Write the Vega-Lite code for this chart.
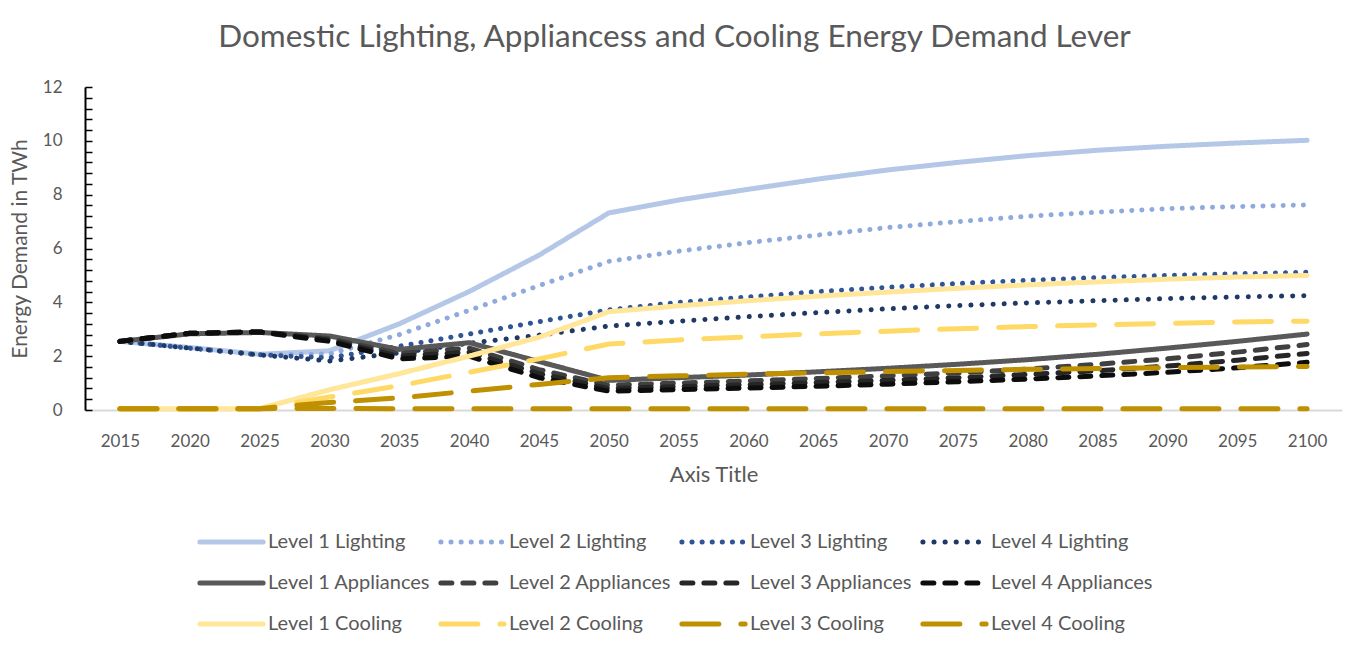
{
  "$schema": "https://vega.github.io/schema/vega-lite/v6.json",
  "autosize": "none",
  "width": 1257,
  "height": 323,
  "padding": {"left": 85, "top": 87, "right": 5, "bottom": 238},
  "background": "white",
  "title": {"text": "Domestic Lighting, Appliancess and Cooling Energy Demand Lever", "fontSize": 31.5, "font": "Lato", "fontWeight": "normal", "color": "#595959", "offset": 25, "dx": -39},
  "config": {
    "font": "Lato",
    "view": {"stroke": null},
    "legend": {"labelFont": "Lato"}
  },
  "datasets": {
    "rows": [
      {"year": 2015, "series": "Level 1 Lighting", "value": 2.55},
      {"year": 2020, "series": "Level 1 Lighting", "value": 2.32},
      {"year": 2025, "series": "Level 1 Lighting", "value": 2.07},
      {"year": 2030, "series": "Level 1 Lighting", "value": 2.2},
      {"year": 2035, "series": "Level 1 Lighting", "value": 3.2},
      {"year": 2040, "series": "Level 1 Lighting", "value": 4.4},
      {"year": 2045, "series": "Level 1 Lighting", "value": 5.75},
      {"year": 2050, "series": "Level 1 Lighting", "value": 7.32},
      {"year": 2055, "series": "Level 1 Lighting", "value": 7.8},
      {"year": 2060, "series": "Level 1 Lighting", "value": 8.2},
      {"year": 2065, "series": "Level 1 Lighting", "value": 8.58},
      {"year": 2070, "series": "Level 1 Lighting", "value": 8.92},
      {"year": 2075, "series": "Level 1 Lighting", "value": 9.2},
      {"year": 2080, "series": "Level 1 Lighting", "value": 9.45},
      {"year": 2085, "series": "Level 1 Lighting", "value": 9.65},
      {"year": 2090, "series": "Level 1 Lighting", "value": 9.8},
      {"year": 2095, "series": "Level 1 Lighting", "value": 9.92},
      {"year": 2100, "series": "Level 1 Lighting", "value": 10.02},
      {"year": 2015, "series": "Level 2 Lighting", "value": 2.55},
      {"year": 2020, "series": "Level 2 Lighting", "value": 2.3},
      {"year": 2025, "series": "Level 2 Lighting", "value": 2.05},
      {"year": 2030, "series": "Level 2 Lighting", "value": 2.08},
      {"year": 2035, "series": "Level 2 Lighting", "value": 2.8},
      {"year": 2040, "series": "Level 2 Lighting", "value": 3.7},
      {"year": 2045, "series": "Level 2 Lighting", "value": 4.62},
      {"year": 2050, "series": "Level 2 Lighting", "value": 5.52},
      {"year": 2055, "series": "Level 2 Lighting", "value": 5.9},
      {"year": 2060, "series": "Level 2 Lighting", "value": 6.22},
      {"year": 2065, "series": "Level 2 Lighting", "value": 6.5},
      {"year": 2070, "series": "Level 2 Lighting", "value": 6.78},
      {"year": 2075, "series": "Level 2 Lighting", "value": 7.0},
      {"year": 2080, "series": "Level 2 Lighting", "value": 7.2},
      {"year": 2085, "series": "Level 2 Lighting", "value": 7.35},
      {"year": 2090, "series": "Level 2 Lighting", "value": 7.48},
      {"year": 2095, "series": "Level 2 Lighting", "value": 7.56},
      {"year": 2100, "series": "Level 2 Lighting", "value": 7.62},
      {"year": 2015, "series": "Level 3 Lighting", "value": 2.55},
      {"year": 2020, "series": "Level 3 Lighting", "value": 2.3},
      {"year": 2025, "series": "Level 3 Lighting", "value": 2.05},
      {"year": 2030, "series": "Level 3 Lighting", "value": 1.94},
      {"year": 2035, "series": "Level 3 Lighting", "value": 2.37},
      {"year": 2040, "series": "Level 3 Lighting", "value": 2.82},
      {"year": 2045, "series": "Level 3 Lighting", "value": 3.28},
      {"year": 2050, "series": "Level 3 Lighting", "value": 3.72},
      {"year": 2055, "series": "Level 3 Lighting", "value": 4.0},
      {"year": 2060, "series": "Level 3 Lighting", "value": 4.2},
      {"year": 2065, "series": "Level 3 Lighting", "value": 4.4},
      {"year": 2070, "series": "Level 3 Lighting", "value": 4.56},
      {"year": 2075, "series": "Level 3 Lighting", "value": 4.7},
      {"year": 2080, "series": "Level 3 Lighting", "value": 4.82},
      {"year": 2085, "series": "Level 3 Lighting", "value": 4.92},
      {"year": 2090, "series": "Level 3 Lighting", "value": 5.0},
      {"year": 2095, "series": "Level 3 Lighting", "value": 5.06},
      {"year": 2100, "series": "Level 3 Lighting", "value": 5.12},
      {"year": 2015, "series": "Level 4 Lighting", "value": 2.55},
      {"year": 2020, "series": "Level 4 Lighting", "value": 2.3},
      {"year": 2025, "series": "Level 4 Lighting", "value": 2.05},
      {"year": 2030, "series": "Level 4 Lighting", "value": 1.82},
      {"year": 2035, "series": "Level 4 Lighting", "value": 2.12},
      {"year": 2040, "series": "Level 4 Lighting", "value": 2.48},
      {"year": 2045, "series": "Level 4 Lighting", "value": 2.78},
      {"year": 2050, "series": "Level 4 Lighting", "value": 3.12},
      {"year": 2055, "series": "Level 4 Lighting", "value": 3.3},
      {"year": 2060, "series": "Level 4 Lighting", "value": 3.47},
      {"year": 2065, "series": "Level 4 Lighting", "value": 3.62},
      {"year": 2070, "series": "Level 4 Lighting", "value": 3.76},
      {"year": 2075, "series": "Level 4 Lighting", "value": 3.88},
      {"year": 2080, "series": "Level 4 Lighting", "value": 3.98},
      {"year": 2085, "series": "Level 4 Lighting", "value": 4.06},
      {"year": 2090, "series": "Level 4 Lighting", "value": 4.14},
      {"year": 2095, "series": "Level 4 Lighting", "value": 4.2},
      {"year": 2100, "series": "Level 4 Lighting", "value": 4.25},
      {"year": 2015, "series": "Level 1 Appliances", "value": 2.55},
      {"year": 2020, "series": "Level 1 Appliances", "value": 2.83},
      {"year": 2025, "series": "Level 1 Appliances", "value": 2.88},
      {"year": 2030, "series": "Level 1 Appliances", "value": 2.75},
      {"year": 2035, "series": "Level 1 Appliances", "value": 2.25},
      {"year": 2040, "series": "Level 1 Appliances", "value": 2.5},
      {"year": 2045, "series": "Level 1 Appliances", "value": 1.8},
      {"year": 2050, "series": "Level 1 Appliances", "value": 1.1},
      {"year": 2055, "series": "Level 1 Appliances", "value": 1.2},
      {"year": 2060, "series": "Level 1 Appliances", "value": 1.3},
      {"year": 2065, "series": "Level 1 Appliances", "value": 1.42},
      {"year": 2070, "series": "Level 1 Appliances", "value": 1.55},
      {"year": 2075, "series": "Level 1 Appliances", "value": 1.7},
      {"year": 2080, "series": "Level 1 Appliances", "value": 1.87},
      {"year": 2085, "series": "Level 1 Appliances", "value": 2.07},
      {"year": 2090, "series": "Level 1 Appliances", "value": 2.3},
      {"year": 2095, "series": "Level 1 Appliances", "value": 2.55},
      {"year": 2100, "series": "Level 1 Appliances", "value": 2.82},
      {"year": 2015, "series": "Level 2 Appliances", "value": 2.55},
      {"year": 2020, "series": "Level 2 Appliances", "value": 2.85},
      {"year": 2025, "series": "Level 2 Appliances", "value": 2.9},
      {"year": 2030, "series": "Level 2 Appliances", "value": 2.65},
      {"year": 2035, "series": "Level 2 Appliances", "value": 2.1},
      {"year": 2040, "series": "Level 2 Appliances", "value": 2.3},
      {"year": 2045, "series": "Level 2 Appliances", "value": 1.5},
      {"year": 2050, "series": "Level 2 Appliances", "value": 0.92},
      {"year": 2055, "series": "Level 2 Appliances", "value": 1.0},
      {"year": 2060, "series": "Level 2 Appliances", "value": 1.08},
      {"year": 2065, "series": "Level 2 Appliances", "value": 1.17},
      {"year": 2070, "series": "Level 2 Appliances", "value": 1.27},
      {"year": 2075, "series": "Level 2 Appliances", "value": 1.38},
      {"year": 2080, "series": "Level 2 Appliances", "value": 1.52},
      {"year": 2085, "series": "Level 2 Appliances", "value": 1.7},
      {"year": 2090, "series": "Level 2 Appliances", "value": 1.9},
      {"year": 2095, "series": "Level 2 Appliances", "value": 2.15},
      {"year": 2100, "series": "Level 2 Appliances", "value": 2.43},
      {"year": 2015, "series": "Level 3 Appliances", "value": 2.55},
      {"year": 2020, "series": "Level 3 Appliances", "value": 2.85},
      {"year": 2025, "series": "Level 3 Appliances", "value": 2.9},
      {"year": 2030, "series": "Level 3 Appliances", "value": 2.6},
      {"year": 2035, "series": "Level 3 Appliances", "value": 2.0},
      {"year": 2040, "series": "Level 3 Appliances", "value": 2.15},
      {"year": 2045, "series": "Level 3 Appliances", "value": 1.35},
      {"year": 2050, "series": "Level 3 Appliances", "value": 0.8},
      {"year": 2055, "series": "Level 3 Appliances", "value": 0.87},
      {"year": 2060, "series": "Level 3 Appliances", "value": 0.94},
      {"year": 2065, "series": "Level 3 Appliances", "value": 1.02},
      {"year": 2070, "series": "Level 3 Appliances", "value": 1.1},
      {"year": 2075, "series": "Level 3 Appliances", "value": 1.2},
      {"year": 2080, "series": "Level 3 Appliances", "value": 1.32},
      {"year": 2085, "series": "Level 3 Appliances", "value": 1.46},
      {"year": 2090, "series": "Level 3 Appliances", "value": 1.63},
      {"year": 2095, "series": "Level 3 Appliances", "value": 1.85},
      {"year": 2100, "series": "Level 3 Appliances", "value": 2.1},
      {"year": 2015, "series": "Level 4 Appliances", "value": 2.55},
      {"year": 2020, "series": "Level 4 Appliances", "value": 2.85},
      {"year": 2025, "series": "Level 4 Appliances", "value": 2.9},
      {"year": 2030, "series": "Level 4 Appliances", "value": 2.55},
      {"year": 2035, "series": "Level 4 Appliances", "value": 1.9},
      {"year": 2040, "series": "Level 4 Appliances", "value": 2.0},
      {"year": 2045, "series": "Level 4 Appliances", "value": 1.2},
      {"year": 2050, "series": "Level 4 Appliances", "value": 0.7},
      {"year": 2055, "series": "Level 4 Appliances", "value": 0.76},
      {"year": 2060, "series": "Level 4 Appliances", "value": 0.82},
      {"year": 2065, "series": "Level 4 Appliances", "value": 0.88},
      {"year": 2070, "series": "Level 4 Appliances", "value": 0.96},
      {"year": 2075, "series": "Level 4 Appliances", "value": 1.05},
      {"year": 2080, "series": "Level 4 Appliances", "value": 1.15},
      {"year": 2085, "series": "Level 4 Appliances", "value": 1.27},
      {"year": 2090, "series": "Level 4 Appliances", "value": 1.4},
      {"year": 2095, "series": "Level 4 Appliances", "value": 1.57},
      {"year": 2100, "series": "Level 4 Appliances", "value": 1.77},
      {"year": 2015, "series": "Level 1 Cooling", "value": 0.05},
      {"year": 2020, "series": "Level 1 Cooling", "value": 0.05},
      {"year": 2025, "series": "Level 1 Cooling", "value": 0.05},
      {"year": 2030, "series": "Level 1 Cooling", "value": 0.75},
      {"year": 2035, "series": "Level 1 Cooling", "value": 1.35},
      {"year": 2040, "series": "Level 1 Cooling", "value": 2.0},
      {"year": 2045, "series": "Level 1 Cooling", "value": 2.7},
      {"year": 2050, "series": "Level 1 Cooling", "value": 3.65},
      {"year": 2055, "series": "Level 1 Cooling", "value": 3.87},
      {"year": 2060, "series": "Level 1 Cooling", "value": 4.06},
      {"year": 2065, "series": "Level 1 Cooling", "value": 4.23},
      {"year": 2070, "series": "Level 1 Cooling", "value": 4.38},
      {"year": 2075, "series": "Level 1 Cooling", "value": 4.52},
      {"year": 2080, "series": "Level 1 Cooling", "value": 4.65},
      {"year": 2085, "series": "Level 1 Cooling", "value": 4.76},
      {"year": 2090, "series": "Level 1 Cooling", "value": 4.86},
      {"year": 2095, "series": "Level 1 Cooling", "value": 4.94},
      {"year": 2100, "series": "Level 1 Cooling", "value": 5.0},
      {"year": 2015, "series": "Level 2 Cooling", "value": 0.05},
      {"year": 2020, "series": "Level 2 Cooling", "value": 0.05},
      {"year": 2025, "series": "Level 2 Cooling", "value": 0.05},
      {"year": 2030, "series": "Level 2 Cooling", "value": 0.48},
      {"year": 2035, "series": "Level 2 Cooling", "value": 0.9},
      {"year": 2040, "series": "Level 2 Cooling", "value": 1.4},
      {"year": 2045, "series": "Level 2 Cooling", "value": 1.9},
      {"year": 2050, "series": "Level 2 Cooling", "value": 2.45},
      {"year": 2055, "series": "Level 2 Cooling", "value": 2.6},
      {"year": 2060, "series": "Level 2 Cooling", "value": 2.72},
      {"year": 2065, "series": "Level 2 Cooling", "value": 2.83},
      {"year": 2070, "series": "Level 2 Cooling", "value": 2.93},
      {"year": 2075, "series": "Level 2 Cooling", "value": 3.02},
      {"year": 2080, "series": "Level 2 Cooling", "value": 3.1},
      {"year": 2085, "series": "Level 2 Cooling", "value": 3.16},
      {"year": 2090, "series": "Level 2 Cooling", "value": 3.22},
      {"year": 2095, "series": "Level 2 Cooling", "value": 3.27},
      {"year": 2100, "series": "Level 2 Cooling", "value": 3.3},
      {"year": 2015, "series": "Level 3 Cooling", "value": 0.05},
      {"year": 2020, "series": "Level 3 Cooling", "value": 0.05},
      {"year": 2025, "series": "Level 3 Cooling", "value": 0.05},
      {"year": 2030, "series": "Level 3 Cooling", "value": 0.28},
      {"year": 2035, "series": "Level 3 Cooling", "value": 0.45},
      {"year": 2040, "series": "Level 3 Cooling", "value": 0.7},
      {"year": 2045, "series": "Level 3 Cooling", "value": 0.95},
      {"year": 2050, "series": "Level 3 Cooling", "value": 1.2},
      {"year": 2055, "series": "Level 3 Cooling", "value": 1.27},
      {"year": 2060, "series": "Level 3 Cooling", "value": 1.33},
      {"year": 2065, "series": "Level 3 Cooling", "value": 1.38},
      {"year": 2070, "series": "Level 3 Cooling", "value": 1.43},
      {"year": 2075, "series": "Level 3 Cooling", "value": 1.47},
      {"year": 2080, "series": "Level 3 Cooling", "value": 1.51},
      {"year": 2085, "series": "Level 3 Cooling", "value": 1.54},
      {"year": 2090, "series": "Level 3 Cooling", "value": 1.57},
      {"year": 2095, "series": "Level 3 Cooling", "value": 1.6},
      {"year": 2100, "series": "Level 3 Cooling", "value": 1.62},
      {"year": 2015, "series": "Level 4 Cooling", "value": 0.05},
      {"year": 2020, "series": "Level 4 Cooling", "value": 0.05},
      {"year": 2025, "series": "Level 4 Cooling", "value": 0.05},
      {"year": 2030, "series": "Level 4 Cooling", "value": 0.06},
      {"year": 2035, "series": "Level 4 Cooling", "value": 0.05},
      {"year": 2040, "series": "Level 4 Cooling", "value": 0.05},
      {"year": 2045, "series": "Level 4 Cooling", "value": 0.05},
      {"year": 2050, "series": "Level 4 Cooling", "value": 0.05},
      {"year": 2055, "series": "Level 4 Cooling", "value": 0.05},
      {"year": 2060, "series": "Level 4 Cooling", "value": 0.05},
      {"year": 2065, "series": "Level 4 Cooling", "value": 0.05},
      {"year": 2070, "series": "Level 4 Cooling", "value": 0.05},
      {"year": 2075, "series": "Level 4 Cooling", "value": 0.05},
      {"year": 2080, "series": "Level 4 Cooling", "value": 0.05},
      {"year": 2085, "series": "Level 4 Cooling", "value": 0.05},
      {"year": 2090, "series": "Level 4 Cooling", "value": 0.05},
      {"year": 2095, "series": "Level 4 Cooling", "value": 0.05},
      {"year": 2100, "series": "Level 4 Cooling", "value": 0.05}
    ]
  },
  "data": {"name": "rows"},
  "mark": {"type": "line", "strokeWidth": 5, "strokeCap": "round", "strokeJoin": "round"},
  "encoding": {
    "x": {
      "field": "year", "type": "ordinal",
      "scale": {"type": "point", "padding": 0.5},
      "axis": {"title": "Axis Title", "labelAngle": 0, "labelFontSize": 17, "labelColor": "#595959", "labelPadding": 23, "ticks": false, "domainColor": "#D9D9D9", "domainWidth": 2, "titleFontSize": 22, "titleFontWeight": "normal", "titleColor": "#595959", "titlePadding": 15, "grid": false}
    },
    "y": {
      "field": "value", "type": "quantitative",
      "scale": {"domain": [0, 12], "nice": false},
      "axis": {"title": "Energy Demand in TWh", "values": [0, 0.4, 0.8, 1.2, 1.6, 2, 2.4, 2.8, 3.2, 3.6, 4, 4.4, 4.8, 5.2, 5.6, 6, 6.4, 6.8, 7.2, 7.6, 8, 8.4, 8.8, 9.2, 9.6, 10, 10.4, 10.8, 11.2, 11.6, 12], "labelExpr": "abs(datum.value - round(datum.value / 2) * 2) < 0.01 ? format(datum.value, 'd') : ''", "labelOverlap": false, "tickSize": -7, "tickColor": "#000000", "tickWidth": 1.5, "domainColor": "#000000", "domainWidth": 2, "labelFontSize": 17, "labelColor": "#595959", "labelPadding": 30, "grid": false, "titleFontSize": 21, "titleFontWeight": "normal", "titleColor": "#595959", "titlePadding": 12}
    },
    "color": {
      "field": "series", "type": "nominal",
      "scale": {
        "domain": ["Level 1 Lighting", "Level 2 Lighting", "Level 3 Lighting", "Level 4 Lighting", "Level 1 Appliances", "Level 2 Appliances", "Level 3 Appliances", "Level 4 Appliances", "Level 1 Cooling", "Level 2 Cooling", "Level 3 Cooling", "Level 4 Cooling"],
        "range": ["#B4C7E7", "#8FAADC", "#2F5597", "#203864", "#595959", "#404040", "#262626", "#0D0D0D", "#FFE699", "#FFD966", "#BF9000", "#BF9000"]
      },
      "legend": {"title": null, "orient": "none", "legendX": 112, "legendY": 436, "direction": "horizontal", "columns": 4, "gridAlign": "all", "columnPadding": 7, "rowPadding": 3, "clipHeight": 38, "symbolType": "stroke", "symbolSize": 4000, "symbolStrokeWidth": 5, "labelFontSize": 20, "labelColor": "#595959", "labelLimit": 300, "labelOffset": 2, "encode": {"symbols": {"update": {"strokeCap": {"value": "round"}}}}}
    },
    "strokeDash": {
      "field": "series", "type": "nominal",
      "scale": {
        "domain": ["Level 1 Lighting", "Level 2 Lighting", "Level 3 Lighting", "Level 4 Lighting", "Level 1 Appliances", "Level 2 Appliances", "Level 3 Appliances", "Level 4 Appliances", "Level 1 Cooling", "Level 2 Cooling", "Level 3 Cooling", "Level 4 Cooling"],
        "range": [[1, 0], [0.1, 10], [0.1, 10], [0.1, 11], [1, 0], [11, 11], [11, 11], [11, 11], [1, 0], [37, 22], [37, 22], [37, 22]]
      },
      "legend": {"title": null, "orient": "none", "legendX": 112, "legendY": 436, "direction": "horizontal", "columns": 4, "gridAlign": "all", "columnPadding": 7, "rowPadding": 3, "clipHeight": 38, "symbolType": "stroke", "symbolSize": 4000, "symbolStrokeWidth": 5, "labelFontSize": 20, "labelColor": "#595959", "labelLimit": 300, "labelOffset": 2, "encode": {"symbols": {"update": {"strokeCap": {"value": "round"}}}}}
    }
  }
}
